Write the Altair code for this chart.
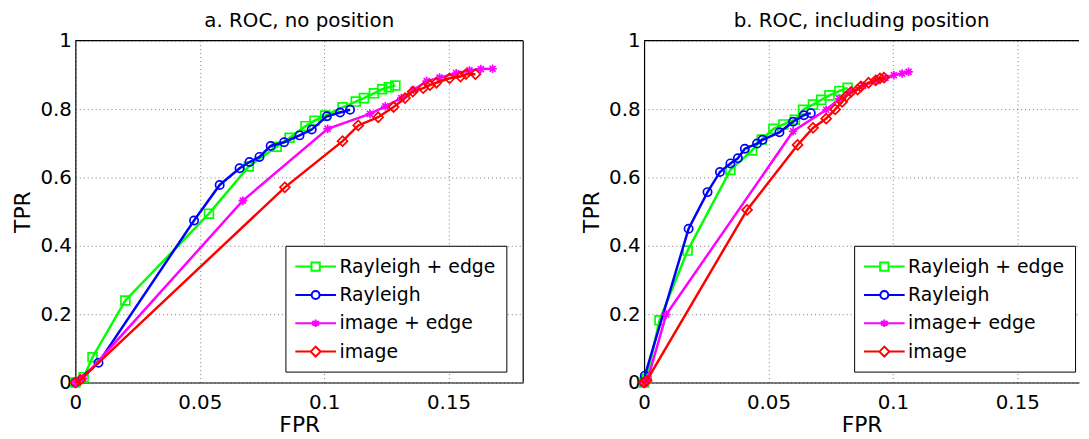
import altair as alt
import pandas as pd

FONT = "DejaVu Sans"

# ---------------- data ----------------
NAMES_A = ["Rayleigh + edge", "Rayleigh", "image + edge", "image"]
NAMES_B = ["Rayleigh + edge", "Rayleigh", "image+ edge", "image"]
COLORS = ["#00ff00", "#0000ff", "#ff00ff", "#ff0000"]

X_TICKS = [0, 0.05, 0.1, 0.15]
Y_TICKS = [0, 0.2, 0.4, 0.6, 0.8, 1]

# panel a: ROC, no position
A_RE_FPR = [0, 0.0033, 0.0069, 0.0201, 0.0537, 0.0697, 0.0809, 0.0861, 0.0925, 0.0961, 0.1004, 0.1074, 0.1127, 0.116, 0.120, 0.1233, 0.126, 0.1286]
A_RE_TPR = [0, 0.015, 0.074, 0.240, 0.494, 0.632, 0.690, 0.716, 0.750, 0.766, 0.781, 0.805, 0.822, 0.832, 0.846, 0.858, 0.864, 0.869]
A_R_FPR = [0, 0.0093, 0.0477, 0.058, 0.066, 0.070, 0.074, 0.0785, 0.0839, 0.0901, 0.095, 0.1011, 0.1064, 0.1104]
A_R_TPR = [0, 0.058, 0.474, 0.578, 0.627, 0.645, 0.660, 0.692, 0.703, 0.723, 0.740, 0.779, 0.790, 0.798]
A_IE_FPR = [0, 0.003, 0.0673, 0.1014, 0.1184, 0.1246, 0.131, 0.136, 0.1412, 0.1464, 0.1531, 0.1584, 0.163, 0.1677]
A_IE_TPR = [0, 0.012, 0.532, 0.742, 0.786, 0.808, 0.832, 0.856, 0.882, 0.892, 0.905, 0.913, 0.917, 0.918]
A_I_FPR = [0, 0.002, 0.0842, 0.1074, 0.1137, 0.1217, 0.1279, 0.1325, 0.1356, 0.1398, 0.1425, 0.1451, 0.1504, 0.1548, 0.157, 0.1608]
A_I_TPR = [0, 0.008, 0.571, 0.706, 0.752, 0.776, 0.806, 0.832, 0.851, 0.861, 0.870, 0.877, 0.890, 0.895, 0.902, 0.902]

# panel b: ROC, including position
B_RE_FPR = [0, 0.001, 0.0062, 0.0175, 0.0347, 0.0434, 0.0473, 0.052, 0.056, 0.0606, 0.0639, 0.0679, 0.0712, 0.0745, 0.0785, 0.0818]
B_RE_TPR = [0, 0.012, 0.182, 0.386, 0.622, 0.679, 0.711, 0.742, 0.755, 0.769, 0.798, 0.813, 0.827, 0.840, 0.853, 0.862]
B_R_FPR = [0, 0.0003, 0.0179, 0.0255, 0.0305, 0.0347, 0.0377, 0.0405, 0.0454, 0.0476, 0.0544, 0.0599, 0.0642, 0.0670]
B_R_TPR = [0, 0.02, 0.450, 0.557, 0.616, 0.641, 0.656, 0.684, 0.699, 0.710, 0.732, 0.763, 0.782, 0.788]
B_IE_FPR = [0, 0.0015, 0.0089, 0.0599, 0.0732, 0.0785, 0.083, 0.088, 0.093, 0.097, 0.1004, 0.1037, 0.1063]
B_IE_TPR = [0, 0.01, 0.199, 0.735, 0.798, 0.830, 0.850, 0.868, 0.882, 0.891, 0.899, 0.904, 0.909]
B_I_FPR = [0, 0.001, 0.0414, 0.0617, 0.0679, 0.0732, 0.0768, 0.0796, 0.0812, 0.0832, 0.0858, 0.0871, 0.0902, 0.0931, 0.0948, 0.0964]
B_I_TPR = [0, 0.005, 0.505, 0.695, 0.745, 0.772, 0.799, 0.821, 0.837, 0.850, 0.857, 0.866, 0.877, 0.884, 0.890, 0.892]

# ---------------- styling ----------------
ASTERISK = "M0,-1V1M-1,0H1M-0.7,-0.7L0.7,0.7M-0.7,0.7L0.7,-0.7"
MARKERS = ["square", "circle", ASTERISK, "diamond"]
MARKER_SIZES = [80, 70, 75, 100]
LEGEND_PATHS = [
    "M-2.05,0H-0.42M0.42,0H2.05M-0.42,-0.42H0.42V0.42H-0.42Z",
    "M-2.05,0H-0.4M0.4,0H2.05M-0.4,0A0.4,0.4 0 1,0 0.4,0A0.4,0.4 0 1,0 -0.4,0Z",
    "M-2.05,0H2.05M0,-0.38V0.38M-0.33,-0.22L0.33,0.22M-0.33,0.22L0.33,-0.22",
    "M-2.05,0H-0.5M0.5,0H2.05M-0.5,0L0,-0.5L0.5,0L0,0.5Z",
]

HEIGHT = 345
WIDTH_A = 452
XMAX_A = 0.18
WIDTH_B = 439
XMAX_B = 0.1748


def enc_xy(xmax):
    x = alt.X(
        "fpr:Q",
        scale=alt.Scale(domain=[0, xmax], nice=False, zero=False),
        axis=alt.Axis(
            values=X_TICKS, format="~g", grid=True, gridDash=[1, 3], gridColor="#7a7a7a",
            gridWidth=1, ticks=False, tickSize=0, labelPadding=10, labelFlush=False,
            labelOverlap=False, labelFont=FONT, labelFontSize=20, labelColor="black",
            domainColor="black", domainWidth=1.2, title="FPR", titleFont=FONT,
            titleFontSize=22, titleFontWeight="normal", titleColor="black",
            titleBaseline="alphabetic", titleY=49,
        ),
    )
    y = alt.Y(
        "tpr:Q",
        scale=alt.Scale(domain=[0, 1], nice=False, zero=False),
        axis=alt.Axis(
            values=Y_TICKS, format="~g", grid=True, gridDash=[1, 3], gridColor="#7a7a7a",
            gridWidth=1, ticks=False, tickSize=0, labelPadding=4, labelFlush=False,
            labelOverlap=False, labelFont=FONT, labelFontSize=20, labelColor="black",
            domainColor="black", domainWidth=1.2, title="TPR", titleFont=FONT,
            titleFontSize=22, titleFontWeight="normal", titleColor="black",
            titleBaseline="alphabetic", titleX=-46,
        ),
    )
    return x, y


def panel(title, names, series, xmax, width, right_frame):
    x, y = enc_xy(xmax)
    one = pd.DataFrame({"k": [0]})
    layers = [
        alt.Chart(one).mark_rule(color="black", strokeWidth=1.2).encode(
            x=alt.value(0), x2=alt.value(width), y=alt.value(0)
        )
    ]
    if right_frame:
        layers.append(
            alt.Chart(one).mark_rule(color="black", strokeWidth=1.2).encode(
                x=alt.value(width), y=alt.value(0), y2=alt.value(HEIGHT)
            )
        )
    for i, (fpr, tpr) in enumerate(series):
        df = pd.DataFrame({"fpr": fpr, "tpr": tpr, "i": list(range(len(fpr)))})
        layers.append(
            alt.Chart(df).mark_line(color=COLORS[i], strokeWidth=2.5).encode(
                x=x, y=y, order=alt.Order("i:Q")
            )
        )
        layers.append(
            alt.Chart(df).mark_point(
                shape=MARKERS[i], filled=False, size=MARKER_SIZES[i],
                strokeWidth=1.7, color=COLORS[i], opacity=1,
            ).encode(x=x, y=y)
        )
    leg = alt.Legend(
        title=None, orient="none", legendX=212, legendY=207, direction="vertical",
        columns=1, fillColor="white", strokeColor="black", padding=10,
        symbolSize=400, symbolStrokeWidth=2, symbolOffset=9.5, labelOffset=13,
        rowPadding=7.6, labelFont=FONT, labelFontSize=19, labelColor="black",
        labelLimit=0,
    )
    leg_df = pd.DataFrame({"series": names, "fpr": [0.0] * 4, "tpr": [0.0] * 4})
    layers.append(
        alt.Chart(leg_df).transform_filter("false").mark_point(
            filled=False, strokeWidth=2, opacity=1
        ).encode(
            x=x, y=y,
            color=alt.Color("series:N", scale=alt.Scale(domain=names, range=COLORS), legend=leg),
            shape=alt.Shape("series:N", scale=alt.Scale(domain=names, range=LEGEND_PATHS), legend=leg),
        )
    )
    return alt.layer(*layers).properties(
        width=width, height=HEIGHT,
        title=alt.TitleParams(
            title, font=FONT, fontSize=20, fontWeight="normal", color="black",
            anchor="middle", frame="group", baseline="alphabetic", offset=-16.5,
        ),
    )


left = panel(
    "a. ROC, no position", NAMES_A,
    [(A_RE_FPR, A_RE_TPR), (A_R_FPR, A_R_TPR), (A_IE_FPR, A_IE_TPR), (A_I_FPR, A_I_TPR)],
    XMAX_A, WIDTH_A, True,
)
right = panel(
    "b. ROC, including position", NAMES_B,
    [(B_RE_FPR, B_RE_TPR), (B_R_FPR, B_R_TPR), (B_IE_FPR, B_IE_TPR), (B_I_FPR, B_I_TPR)],
    XMAX_B, WIDTH_B, False,
)

chart = (
    alt.hconcat(left, right, spacing=122)
    .resolve_scale(x="independent", y="independent", color="independent", shape="independent")
    .resolve_legend(color="independent", shape="independent")
    .properties(bounds="flush", padding={"left": 3, "top": 1, "right": 0, "bottom": 0}, background="white")
    .configure_view(stroke="transparent")
)

chart.save("out.html", embed_options={"renderer": "svg", "actions": False})
